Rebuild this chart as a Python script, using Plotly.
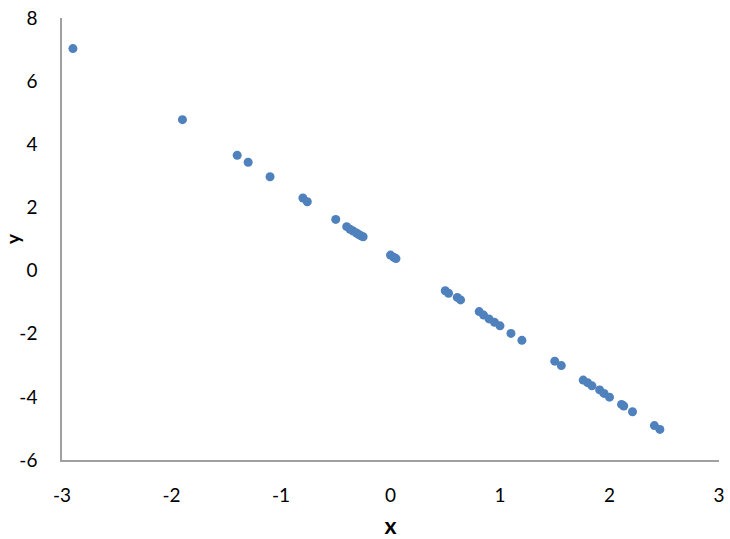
import plotly.graph_objects as go

# values
x_vals = [-2.90, -1.90, -1.40, -1.30, -1.10, -0.80, -0.76, -0.50, -0.40, -0.37,
          -0.34, -0.31, -0.29, -0.27, -0.25, 0.00, 0.03, 0.05, 0.50, 0.53,
          0.61, 0.64, 0.81, 0.85, 0.90, 0.95, 1.00, 1.10, 1.20, 1.50,
          1.56, 1.76, 1.80, 1.84, 1.91, 1.95, 2.00, 2.11, 2.13, 2.21,
          2.41, 2.46]
y_vals = [7.03, 4.78, 3.65, 3.43, 2.97, 2.30, 2.18, 1.62, 1.39, 1.31,
          1.25, 1.19, 1.14, 1.10, 1.07, 0.49, 0.42, 0.38, -0.64, -0.72,
          -0.85, -0.93, -1.30, -1.41, -1.53, -1.64, -1.75, -1.99, -2.21, -2.87,
          -3.01, -3.47, -3.55, -3.65, -3.78, -3.89, -4.01, -4.24, -4.29, -4.47,
          -4.91, -5.03]
x_ticks = [-3, -2, -1, 0, 1, 2, 3]
y_ticks = [-6, -4, -2, 0, 2, 4, 6, 8]

fig = go.Figure()
fig.add_trace(go.Scatter(x=x_vals, y=y_vals, mode="markers",
                         marker=dict(color="#4F81BD", size=9)))

axis_font = dict(family="Lato, Open Sans, sans-serif", size=19, color="#000000")

fig.update_layout(
    width=730, height=539,
    margin=dict(l=62, r=11, t=18, b=79),
    plot_bgcolor="white", paper_bgcolor="white",
    showlegend=False,
    font=axis_font,
    xaxis=dict(range=[-3, 3], tickvals=x_ticks,
               ticktext=[str(v) for v in x_ticks],
               showgrid=False, zeroline=False, automargin=False,
               showline=True, linecolor="#A0A0A0", linewidth=1.5,
               ticks="outside", ticklen=17, tickcolor="rgba(0,0,0,0)",
               title=dict(text="<b>x</b>", standoff=14)),
    yaxis=dict(range=[-6, 8], tickvals=y_ticks,
               ticktext=[str(v) for v in y_ticks],
               showgrid=False, zeroline=False, automargin=False,
               showline=True, linecolor="#A0A0A0", linewidth=1.5,
               ticks="outside", ticklen=19, tickcolor="rgba(0,0,0,0)"),
)

# y title sits right at the left edge, so place it by hand
fig.add_annotation(text="<b>y</b>", textangle=-90, showarrow=False,
                   font=axis_font,
                   xref="paper", yref="paper", x=0, y=0.5,
                   xanchor="center", yanchor="middle", xshift=-50)

# page body has a default 8px margin, drop it so the figure sits at 0,0
fig.write_html("out.html", config={"displayModeBar": False},
               post_script="document.body.style.margin='0';")
